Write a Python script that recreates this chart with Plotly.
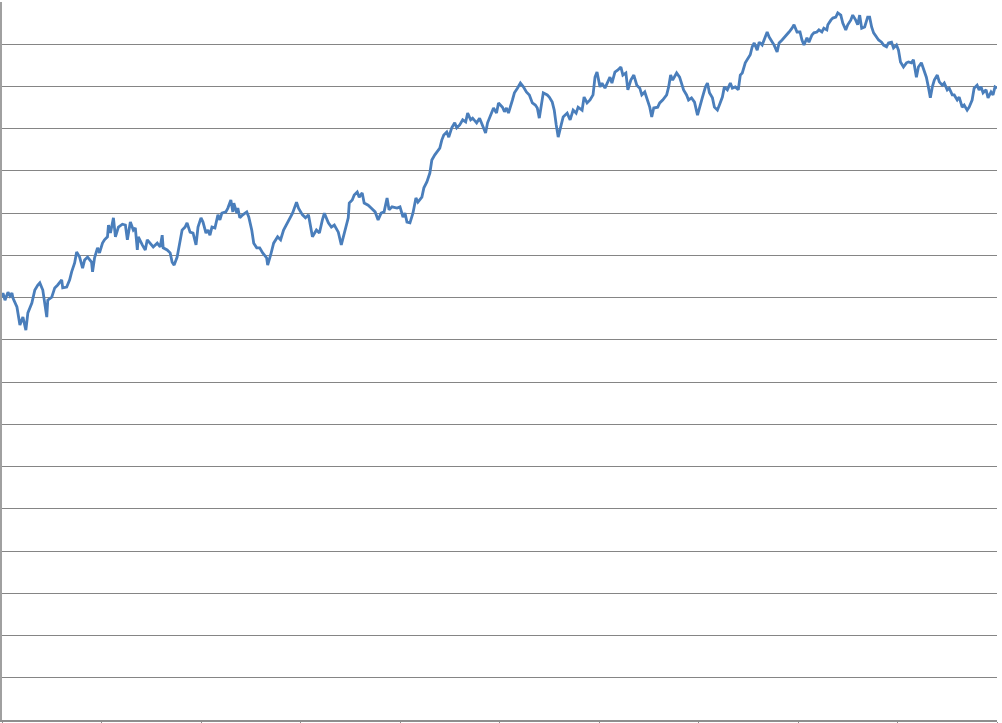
import plotly.graph_objects as go

# Trading-day index (x) and index level (y)
days = [
    0, 1, 3, 6, 8, 10, 11, 15, 18, 21, 24, 26, 30, 33, 36, 38, 41, 45, 46, 50,
    53, 56, 60, 61, 65, 68, 70, 73, 75, 78, 81, 83, 86, 90, 91, 93, 96, 98, 101, 103,
    106, 107, 109, 112, 114, 117, 121, 124, 126, 129, 132, 134, 136, 137, 141, 144, 146, 149, 152, 156,
    159, 161, 162, 166, 169, 171, 173, 176, 179, 181, 184, 186, 189, 192, 195, 197,
    200, 202, 205, 207, 209, 211, 214, 217, 219, 221, 225, 227, 230, 232, 233, 236, 237, 239, 242, 246,
    248, 251, 253, 256, 259, 262, 266, 267, 270, 273, 277, 280, 283, 287, 290, 292, 296, 298, 302, 305,
    308, 310, 312, 316, 319, 322, 324, 328, 331, 334, 338, 341, 344, 348, 349, 352, 354, 357, 359, 362,
    364, 368, 371, 375, 378, 381, 384, 387, 389, 392, 397,
    400, 403, 405, 407, 410, 413, 416, 418, 422, 424, 427, 430, 432, 435, 437, 440, 442, 444, 447, 449,
    452, 455, 457, 460, 463, 466, 468, 471, 473, 477, 480, 483, 486, 488, 492, 494, 497, 499, 503, 505,
    507, 509, 513, 515, 518, 521, 524, 527, 530, 533, 536, 538, 540, 542, 544, 548, 550, 553, 555, 557,
    559, 562, 564, 568, 571, 574, 577, 579, 583, 585, 588, 591, 594, 596, 598,
    601, 603, 606, 609, 611, 613, 616, 619, 622, 624, 627, 629, 632, 635, 638, 641, 643, 646, 649, 651,
    653, 655, 659, 661, 664, 668, 670, 672, 674, 678, 681, 683, 685, 688, 690, 693, 696, 699, 701, 704,
    707, 709, 711, 714, 716, 719, 721, 724, 726, 729, 732, 734, 737, 740, 742, 744, 747, 750, 752, 754,
    756, 759, 761, 764, 766, 769, 771, 774, 776, 779, 781, 784, 786, 789, 791, 794, 796, 799,
    802, 804, 806, 809, 811, 814, 816, 819, 821, 824, 826, 829, 830, 833, 835, 838, 840, 843, 845, 848,
    850, 853, 855, 858, 860, 862, 864, 867, 870, 872, 874, 876, 879, 881, 884, 886, 889, 891, 894, 896,
    899, 901, 903, 906, 909, 911, 914, 916, 919, 921, 924, 926, 929, 931, 933, 935, 937, 940, 942, 945,
    947, 950, 952, 955, 957, 960, 962, 965, 967, 970, 972, 975, 977, 980, 982, 984, 986, 989, 991, 994,
    996, 998, 1000,
]

index_values = [
    1001, 1011, 994, 1013, 1004, 1011, 999, 978, 935, 954, 923, 964, 987, 1018, 1030, 1035, 1018, 954, 994, 1001,
    1023, 1030, 1042, 1023, 1025, 1042, 1061, 1082, 1108, 1096, 1070, 1089, 1096, 1084, 1061, 1094, 1118, 1106, 1129, 1137,
    1144, 1172, 1153, 1189, 1144, 1167, 1174, 1172, 1137, 1179, 1160, 1165, 1113, 1144, 1125, 1113, 1137, 1129, 1120, 1129,
    1120, 1148, 1118, 1113, 1106, 1084, 1077, 1096, 1137, 1160, 1167, 1177, 1155, 1153, 1125, 1167,
    1189, 1179, 1153, 1160, 1148, 1167, 1165, 1196, 1184, 1200, 1203, 1212, 1231, 1203, 1224, 1200, 1212, 1189, 1196, 1203,
    1191, 1160, 1129, 1118, 1118, 1106, 1094, 1077, 1101, 1129, 1144, 1137, 1160, 1177, 1189, 1200, 1226, 1212, 1196, 1189,
    1196, 1167, 1144, 1160, 1153, 1184, 1200, 1177, 1167, 1172, 1155, 1125, 1153, 1189, 1224, 1231, 1243, 1250, 1238, 1248,
    1224, 1219, 1212, 1203, 1184, 1200, 1203, 1236, 1208, 1215, 1212,
    1215, 1191, 1200, 1179, 1177, 1200, 1236, 1226, 1238, 1260, 1274, 1295, 1326, 1338, 1345, 1354, 1373, 1385, 1392, 1380,
    1402, 1414, 1402, 1409, 1421, 1416, 1437, 1421, 1425, 1414, 1425, 1409, 1390, 1414, 1440, 1449, 1437, 1461, 1451, 1440,
    1449, 1437, 1468, 1485, 1496, 1508, 1499, 1487, 1480, 1461, 1456, 1449, 1425, 1461, 1485, 1480, 1475, 1463, 1444, 1409,
    1380, 1409, 1428, 1437, 1421, 1444, 1437, 1451, 1444, 1475, 1461, 1468, 1480, 1522, 1534,
    1499, 1508, 1496, 1511, 1522, 1508, 1534, 1539, 1546, 1527, 1532, 1492, 1515, 1527, 1503, 1496, 1480, 1487, 1468, 1451,
    1428, 1449, 1451, 1461, 1468, 1480, 1499, 1527, 1515, 1532, 1522, 1508, 1492, 1480, 1468, 1473, 1463, 1432, 1451, 1475,
    1499, 1508, 1485, 1473, 1451, 1444, 1456, 1475, 1499, 1492, 1508, 1496, 1499, 1492, 1527, 1532, 1556, 1567, 1575, 1594,
    1603, 1586, 1605, 1598, 1610, 1629, 1617, 1605, 1598, 1582, 1603, 1610, 1615, 1622, 1629, 1638, 1646, 1629,
    1629, 1610, 1598, 1615, 1605, 1622, 1627, 1629, 1634, 1629, 1638, 1634, 1646, 1657, 1662, 1664, 1674, 1669, 1650, 1634,
    1646, 1657, 1669, 1657, 1646, 1669, 1638, 1641, 1664, 1664, 1641, 1627, 1617, 1610, 1605, 1598, 1594, 1603, 1605, 1591,
    1598, 1586, 1558, 1546, 1556, 1558, 1556, 1563, 1522, 1546, 1556, 1544, 1522, 1499, 1473, 1499, 1515, 1527, 1511, 1503,
    1508, 1492, 1496, 1480, 1480, 1468, 1475, 1451, 1456, 1444, 1451, 1468, 1496, 1503, 1492, 1499, 1485, 1492, 1473, 1487,
    1480, 1499, 1496,
]

x_ticks = [0, 100, 200, 300, 400, 500, 600, 700, 800, 900, 1000]
y_ticks = list(range(0, 1800, 100))

LINE_BLUE = "#4A7EBB"
GRID_GREY = "#858585"
AXIS_GREY = "#8E8E8E"

fig = go.Figure(
    go.Scatter(
        x=days,
        y=index_values,
        mode="lines",
        line=dict(color=LINE_BLUE, width=2.8),
        hoverinfo="x+y",
    )
)

fig.update_layout(
    width=1002,
    height=723,
    margin=dict(l=2, r=5, t=2, b=3, pad=0),
    paper_bgcolor="white",
    plot_bgcolor="white",
    showlegend=False,
)

fig.update_xaxes(
    range=[0, 1000],
    tickvals=x_ticks,
    showticklabels=False,
    ticks="outside",
    ticklen=4,
    tickcolor=AXIS_GREY,
    showgrid=False,
    zeroline=False,
    showline=True,
    linecolor=AXIS_GREY,
    linewidth=1.5,
    automargin=False,
)

fig.update_yaxes(
    range=[0, 1700],
    tickvals=y_ticks,
    showticklabels=False,
    ticks="outside",
    ticklen=2,
    tickcolor=AXIS_GREY,
    showgrid=True,
    gridcolor=GRID_GREY,
    gridwidth=1.2,
    zeroline=False,
    showline=True,
    linecolor="#A0A0A0",
    linewidth=1.5,
    automargin=False,
)

fig.write_html(
    "out.html",
    config={"displayModeBar": False},
    post_script="document.body.style.margin='0px';document.body.style.overflow='hidden';",
)
